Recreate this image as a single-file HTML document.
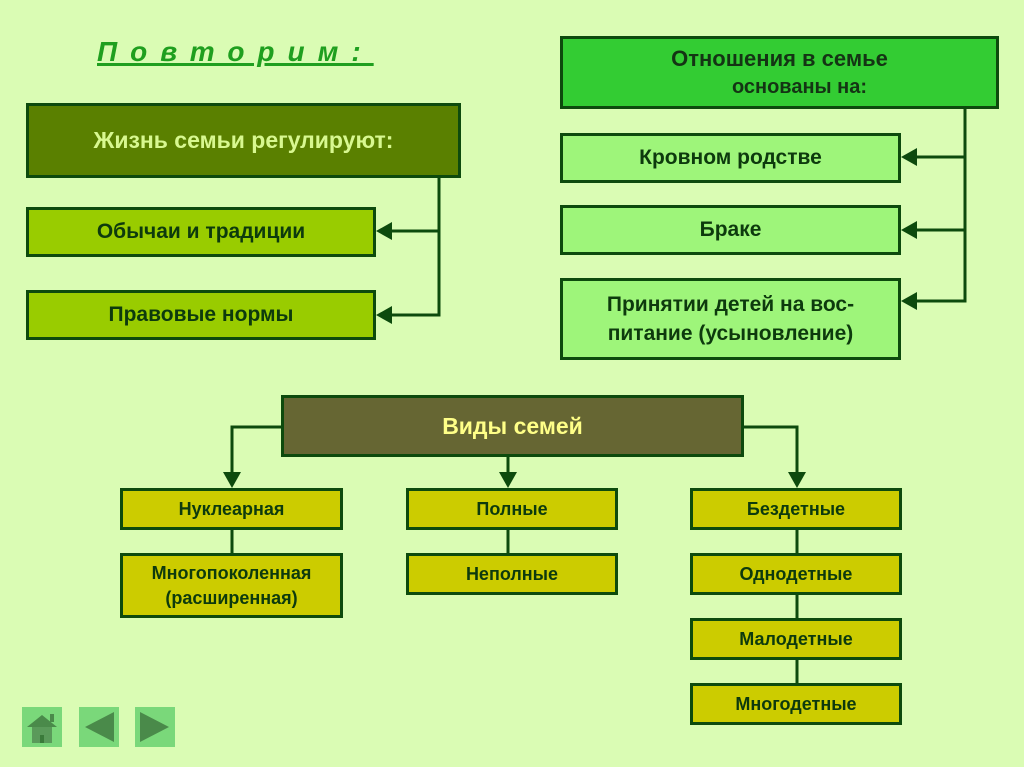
<!DOCTYPE html>
<html><head><meta charset="utf-8"><style>
body{margin:0;width:1024px;height:767px;background:#dafcb4;position:relative;overflow:hidden;font-family:"Liberation Sans","DejaVu Sans",sans-serif;}
.b{position:absolute;box-sizing:border-box;border:3px solid #0d4a0d;display:flex;align-items:center;justify-content:center;text-align:center;font-weight:bold;color:#0d3a0d;}
.l{background:#99cc00;font-size:21px;}
.r{background:#9ef57a;font-size:21px;line-height:1.4;}
.y{background:#cccc00;font-size:18px;line-height:1.35;}
.n{position:absolute;width:40px;height:40px;background:#7ad87a;}
</style></head><body>
<div style="position:absolute;left:97px;top:36px;font-size:28px;font-weight:bold;font-style:italic;color:#1f9f1f;letter-spacing:13px;text-decoration:underline;text-decoration-thickness:3px;">Повторим:</div>
<div class="b" style="left:26px;top:103px;width:435px;height:75px;background:#5a8000;color:#d8f890;font-size:23px;">Жизнь семьи регулируют:</div>
<div class="b l" style="left:26px;top:207px;width:350px;height:50px;">Обычаи и традиции</div>
<div class="b l" style="left:26px;top:290px;width:350px;height:50px;">Правовые нормы</div>
<div class="b" style="left:560px;top:36px;width:439px;height:73px;background:#33cc33;color:#143414;font-size:22px;line-height:1.3;flex-direction:column;"><div>Отношения в семье</div><div style="font-size:20px;padding-left:40px">основаны на:</div></div>
<div class="b r" style="left:560px;top:133px;width:341px;height:50px;">Кровном родстве</div>
<div class="b r" style="left:560px;top:205px;width:341px;height:50px;">Браке</div>
<div class="b r" style="left:560px;top:278px;width:341px;height:82px;">Принятии детей на вос-<br>питание (усыновление)</div>
<div class="b" style="left:281px;top:395px;width:463px;height:62px;background:#666633;color:#ffff88;font-size:23px;">Виды семей</div>
<div class="b y" style="left:120px;top:488px;width:223px;height:42px;">Нуклеарная</div>
<div class="b y" style="left:120px;top:553px;width:223px;height:65px;">Многопоколенная<br>(расширенная)</div>
<div class="b y" style="left:406px;top:488px;width:212px;height:42px;">Полные</div>
<div class="b y" style="left:406px;top:553px;width:212px;height:42px;">Неполные</div>
<div class="b y" style="left:690px;top:488px;width:212px;height:42px;">Бездетные</div>
<div class="b y" style="left:690px;top:553px;width:212px;height:42px;">Однодетные</div>
<div class="b y" style="left:690px;top:618px;width:212px;height:42px;">Малодетные</div>
<div class="b y" style="left:690px;top:683px;width:212px;height:42px;">Многодетные</div>
<svg width="1024" height="767" style="position:absolute;left:0;top:0" fill="none" stroke="#0d4a0d" stroke-width="3">
<path d="M439 178V315H390M439 231H390M965 109V301H915M965 157H915M965 230H915"/>
<path d="M281 427H232V473M508 457V473M744 427H797V473"/>
<path d="M232 530V553M508 530V553M797 530V553M797 595V618M797 660V683"/>
<g fill="#0d4a0d" stroke="none">
<path d="M376 231l16-9v18zM376 315l16-9v18zM901 157l16-9v18zM901 230l16-9v18zM901 301l16-9v18z"/>
<path d="M232 488l-9-16h18zM508 488l-9-16h18zM797 488l-9-16h18z"/>
</g></svg>
<div class="n" style="left:22px;top:707px"><svg width="40" height="40"><path d="M5 20L20 8L35 20Z" fill="#4a8a4a"/><rect x="10" y="20" width="20" height="16" fill="#5a9a5a"/><rect x="18" y="28" width="4" height="8" fill="#3a7a3a"/><rect x="28" y="7" width="4" height="8" fill="#4a8a4a"/></svg></div>
<div class="n" style="left:79px;top:707px"><svg width="40" height="40"><path d="M6 20L35 5V35Z" fill="#4a8a4a"/></svg></div>
<div class="n" style="left:135px;top:707px"><svg width="40" height="40"><path d="M34 20L5 5V35Z" fill="#4a8a4a"/></svg></div>
</body></html>
